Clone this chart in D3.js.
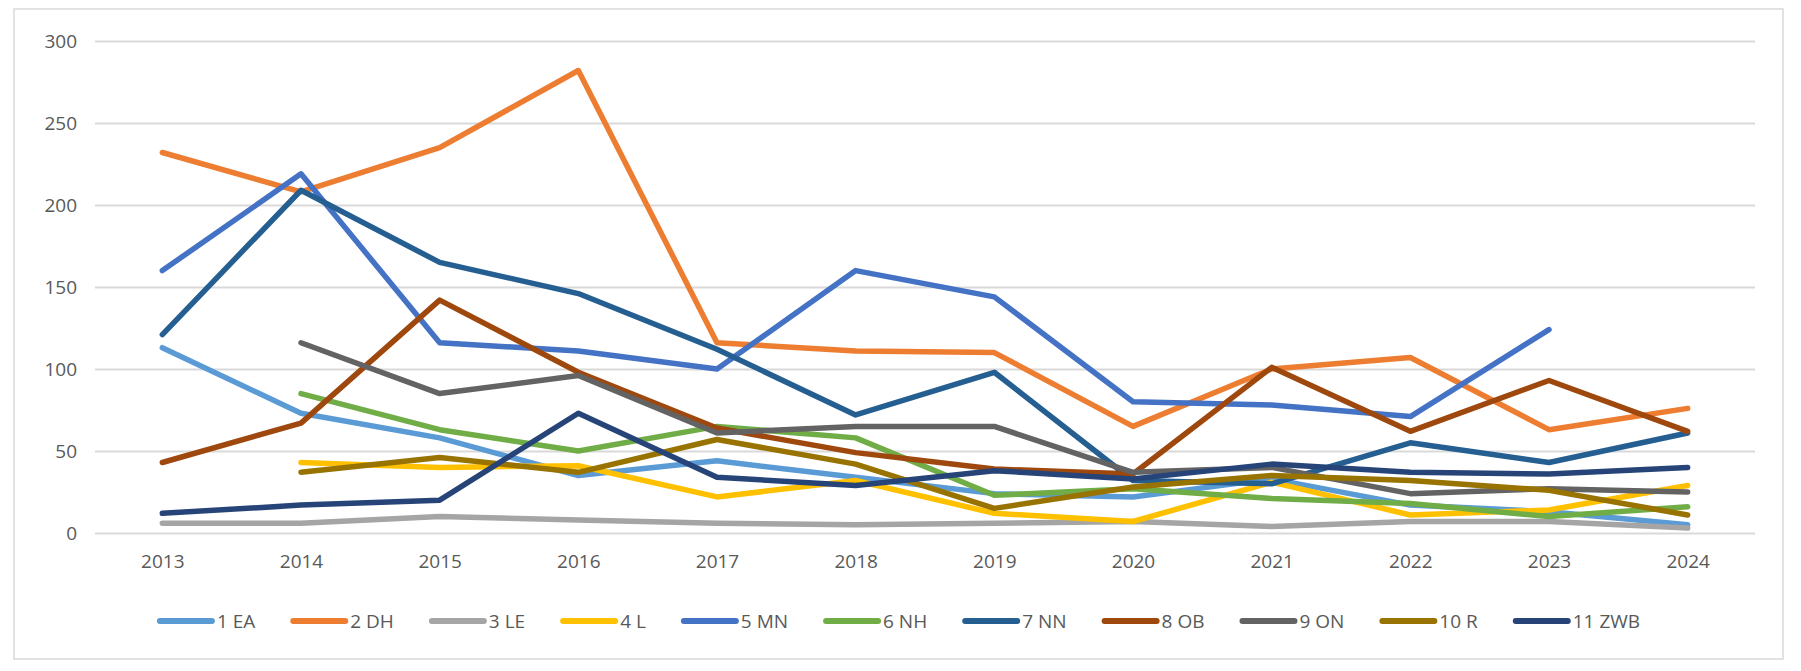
<!DOCTYPE html>
<html>
<head>
<meta charset="utf-8">
<script src="https://cdn.jsdelivr.net/npm/d3@7"></script>
<style>
  html, body { margin: 0; padding: 0; background: #fff; }
  svg text { font-family: "Open Sans", "Noto Sans", sans-serif; fill: #595959; }
  .grid line { stroke: #d9d9d9; stroke-width: 2; }
  .grid .domain { display: none; }
  .axis .domain { display: none; }
</style>
</head>
<body>
<svg id="chart" width="1801" height="671"></svg>
<script>
const years = ['2013', '2014', '2015', '2016', '2017', '2018', '2019', '2020', '2021', '2022', '2023', '2024'];
const yTicks = [0, 50, 100, 150, 200, 250, 300];

const ea  = [113, 73, 58, 35, 44, 34, 24, 22, 33, 17, 13, 5];
const dh  = [232, 208, 235, 282, 116, 111, 110, 65, 100, 107, 63, 76];
const le  = [6, 6, 10, 8, 6, 5, 6, 7, 4, 7, 7, 3];
const l   = [null, 43, 40, 41, 22, 32, 12, 7, 31, 11, 14, 29];
const mn  = [160, 219, 116, 111, 100, 160, 144, 80, 78, 71, 124, null];
const nh  = [null, 85, 63, 50, 65, 58, 23, 27, 21, 18, 10, 16];
const nn  = [121, 209, 165, 146, 112, 72, 98, 32, 30, 55, 43, 61];
const ob  = [43, 67, 142, 98, 64, 49, 39, 36, 101, 62, 93, 62];
const on  = [null, 116, 85, 96, 61, 65, 65, 37, 40, 24, 27, 25];
const r   = [null, 37, 46, 37, 57, 42, 15, 28, 35, 32, 26, 11];
const zwb = [12, 17, 20, 73, 34, 29, 38, 33, 42, 37, 36, 40];

const seriesNames = ['1 EA', '2 DH', '3 LE', '4 L', '5 MN', '6 NH', '7 NN', '8 OB', '9 ON', '10 R', '11 ZWB'];
const seriesValues = [ea, dh, le, l, mn, nh, nn, ob, on, r, zwb];
const colors = ['#5b9bd5', '#ed7d31', '#a5a5a5', '#ffc000', '#4472c4', '#70ad47',
                '#255e91', '#9e480e', '#636363', '#997300', '#264478'];

const margin = { top: 41, left: 93, right: 44, bottom: 138 };
const width = 1801, height = 671;

const svg = d3.select('#chart');

// 外框
svg.append('rect')
  .attr('x', 14).attr('y', 9)
  .attr('width', 1769).attr('height', 650)
  .attr('fill', '#fff')
  .attr('stroke', '#d9d9d9')
  .attr('stroke-width', 1.5);

const scaleX = d3.scalePoint()
  .domain(years)
  .range([margin.left, width - margin.right])
  .padding(0.5);

const scaleY = d3.scaleLinear()
  .domain([0, 300])
  .range([height - margin.bottom, margin.top]);

// 辅助线
svg.append('g')
  .attr('class', 'grid')
  .attr('transform', `translate(${margin.left + 2}, 0)`)
  .call(d3.axisLeft(scaleY).tickValues(yTicks).tickSize(-(width - margin.left - margin.right - 4)).tickFormat(''));

// 左数轴
const leftAxis = svg.append('g')
  .attr('class', 'axis')
  .attr('transform', `translate(${margin.left - 16}, 0)`)
  .call(d3.axisLeft(scaleY).tickValues(yTicks).tickSize(0).tickPadding(0));
leftAxis.selectAll('.tick text').style('font-size', '19px');

// 底部数轴
const bottomAxis = svg.append('g')
  .attr('class', 'axis')
  .attr('transform', `translate(0, ${height - margin.bottom})`)
  .call(d3.axisBottom(scaleX).tickSize(0).tickPadding(22));
bottomAxis.selectAll('.tick text').style('font-size', '19px');

// 折线
const line = d3.line()
  .defined(d => d != null)
  .x((d, i) => scaleX(years[i]))
  .y(d => scaleY(d));

svg.append('g')
  .selectAll('path')
  .data(seriesValues)
  .join('path')
  .attr('d', d => line(d))
  .attr('fill', 'none')
  .attr('stroke', (d, i) => colors[i])
  .attr('stroke-width', 5.5)
  .attr('stroke-linejoin', 'round')
  .attr('stroke-linecap', 'round');

// 图例
const legend = svg.append('g');
const legendY = 621;
const itemGap = 35;
let cursor = 0;
seriesNames.forEach((name, i) => {
  const item = legend.append('g').attr('transform', `translate(${cursor}, 0)`);
  item.append('line')
    .attr('x1', 3).attr('x2', 55)
    .attr('y1', legendY).attr('y2', legendY)
    .attr('stroke', colors[i])
    .attr('stroke-width', 6)
    .attr('stroke-linecap', 'round');
  const text = item.append('text')
    .attr('x', 60)
    .attr('y', legendY)
    .attr('dy', '0.35em')
    .style('font-size', '19px')
    .text(name);
  cursor += 60 + text.node().getComputedTextLength() + itemGap;
});
const legendWidth = cursor - itemGap;
legend.attr('transform', `translate(${(14 + 1783) / 2 - legendWidth / 2}, 0)`);
</script>
</body>
</html>
